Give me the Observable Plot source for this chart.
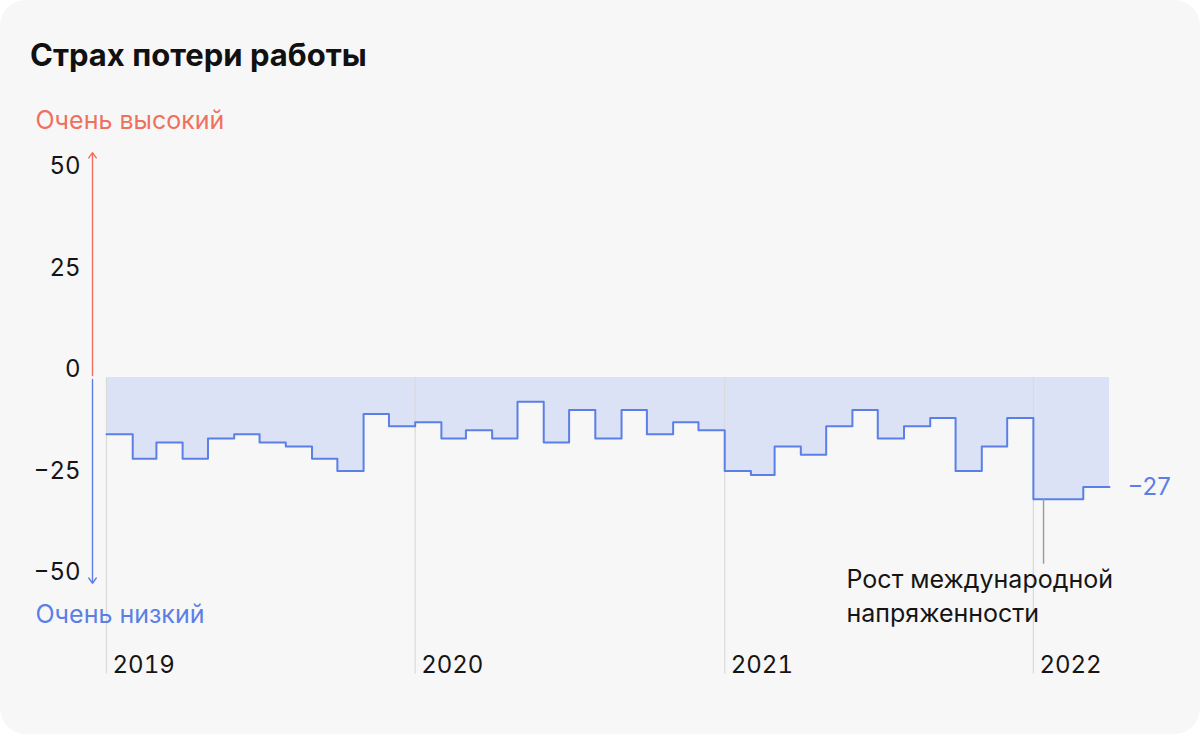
<!DOCTYPE html>
<html>
<head>
<meta charset="utf-8">
<script src="https://cdn.jsdelivr.net/npm/d3@7"></script>
<script src="https://cdn.jsdelivr.net/npm/@observablehq/plot@0.6"></script>
<style>
  html, body { margin: 0; padding: 0; background: #ffffff; }
  #card { width: 1200px; height: 734px; background: #f7f7f7; border-radius: 26px; overflow: hidden;
          font-family: Inter, "Noto Sans", sans-serif; }
  #title { height: 100px; box-sizing: border-box; margin: 0; padding: 33px 0 0 30px;
           font-size: 31px; line-height: 44px; font-weight: 700; color: #111; }
  #chart svg { display: block; }
</style>
</head>
<body>
<div id="card">
  <h1 id="title">Страх потери работы</h1>
  <div id="chart"></div>
</div>
<script>
// ---- data ----
const months = [
  "2019-01","2019-02","2019-03","2019-04","2019-05","2019-06","2019-07","2019-08","2019-09","2019-10","2019-11","2019-12",
  "2020-01","2020-02","2020-03","2020-04","2020-05","2020-06","2020-07","2020-08","2020-09","2020-10","2020-11","2020-12",
  "2021-01","2021-02","2021-03","2021-04","2021-05","2021-06","2021-07","2021-08","2021-09","2021-10","2021-11","2021-12",
  "2022-01","2022-02","2022-03"
];
const values = [
  -14, -20, -16, -20, -15, -14, -16, -17, -20, -23, -9, -12,
  -11, -15, -13, -15, -6, -16, -8, -15, -8, -14, -11, -13,
  -23, -24, -17, -19, -12, -8, -15, -12, -10, -23, -17, -10,
  -30, -30, -27
];
const endMonth = "2022-04";
const yTicks = [-50, -25, 0, 25, 50];
const yearTicks = ["2019-01", "2020-01", "2021-01", "2022-01"];
const topLabel = "Очень высокий";
const bottomLabel = "Очень низкий";
const lastLabel = "−27";
const lastValue = -27;
const noteMonth = "2022-01-13";
const noteText = "Рост международной\nнапряженности";

// ---- build ----
const parse = d3.utcParse("%Y-%m");
const rows = months.map((m, i) => ({date: parse(m), value: values[i]}));
const stepRows = rows.concat([{date: parse(endMonth), value: values[values.length - 1]}]);
const years = yearTicks.map(parse);
const startDate = parse(months[0]);
const endDate = parse(endMonth);
const noteDate = d3.utcParse("%Y-%m-%d")(noteMonth);

const RED = "#f0705e";
const BLUE = "#5b7fe6";
const FILL = "#dce2f5";
const GRID = "#dadada";
const INK = "#151515";
const minus = d => d < 0 ? "\u2212" + Math.abs(d) : String(d);

const chart = Plot.plot({
  width: 1200,
  height: 634,
  marginLeft: 106,
  marginRight: 91,
  marginTop: 0,
  marginBottom: 81,
  style: {background: "transparent", fontFamily: "Inter, 'Noto Sans', sans-serif", fontSize: "24px", color: INK},
  x: {type: "utc", domain: [startDate, endDate]},
  y: {domain: [-50, 50], range: [480, 74]},
  marks: [
    Plot.areaY(stepRows, {x: "date", y1: 0, y2: "value", curve: "step-after", fill: FILL}),
    Plot.ruleX(years, {x: d => d, y1: 0, y2: -73, stroke: GRID, strokeWidth: 1.2}),
    Plot.lineY(stepRows, {x: "date", y: "value", curve: "step-after", stroke: BLUE, strokeWidth: 2}),
    Plot.arrow([{y1: 0.5, y2: 55.4, c: RED}, {y1: -0.5, y2: -50.7, c: BLUE}], {
      x1: () => startDate, x2: () => startDate, y1: "y1", y2: "y2", dx: -14,
      stroke: d => d.c, strokeWidth: 1.4, headLength: 7, headAngle: 70
    }),
    Plot.axisY({ticks: yTicks, tickSize: 0, tickPadding: 26, dy: -8, tickFormat: minus, label: null, fontSize: 24, fill: INK}),
    Plot.axisX({ticks: years, tickSize: 0, tickPadding: 2, tickFormat: "%Y", textAnchor: "start", dx: 6, label: null, fontSize: 24, fill: INK}),
    Plot.text([topLabel], {frameAnchor: "top-left", text: d => d, dx: -71, dy: 20, textAnchor: "start", lineAnchor: "middle", fill: RED, fontSize: 25}),
    Plot.text([bottomLabel], {frameAnchor: "top-left", text: d => d, dx: -71, dy: 514, textAnchor: "start", lineAnchor: "middle", fill: BLUE, fontSize: 25}),
    Plot.text([lastLabel], {x: () => endDate, y: () => lastValue, text: d => d, dx: 18, textAnchor: "start", fill: BLUE, fontSize: 24}),
    Plot.ruleX([noteDate], {x: d => d, y1: -30, y2: -46, stroke: "#9a9a9a", strokeWidth: 1.4}),
    Plot.text([noteText], {x: () => noteDate, y: () => -46, text: d => d, dx: -197, dy: 0, textAnchor: "start", lineAnchor: "top", lineHeight: 1.36, fill: INK, fontSize: 25})
  ]
});
document.getElementById("chart").appendChild(chart);
</script>
</body>
</html>
